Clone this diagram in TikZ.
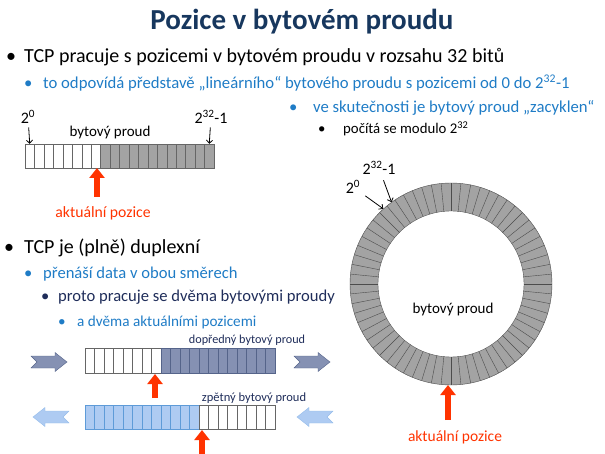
\documentclass[tikz,border=0pt]{standalone}
\usepackage{fontspec}
\setmainfont{Carlito}
\usetikzlibrary{arrows.meta}
\definecolor{titleblue}{HTML}{17375E}
\definecolor{textblue}{HTML}{1F7CC6}
\definecolor{navy}{HTML}{1F2D5A}
\definecolor{cellgray}{HTML}{A3A3A3}
\definecolor{slate}{HTML}{8591B3}
\definecolor{slateline}{HTML}{55648A}
\definecolor{skyfill}{HTML}{AECBF2}
\definecolor{skyline}{HTML}{5E9BD8}
\definecolor{posred}{HTML}{FF3300}
\newcommand{\fs}[1]{\fontsize{#1}{#1}\selectfont}
\newcommand{\bl}[1]{\makebox[#1][l]{\textbullet}}

\begin{document}
\begin{tikzpicture}[x=1pt,y=-1pt,>=Straight Barb]
\useasboundingbox (0,0) rectangle (605,454);
\newcommand{\cw}{9.45}
\tikzset{
  line/.style={anchor=west,inner sep=0},
  cell/.style={rectangle,draw=black!60,minimum width=\cw pt,minimum height=24pt,inner sep=0},
  posarrow/.style={posred,line width=6pt,-{Triangle[width=15pt,length=10pt]}},
  chevron/.pic={\draw[pic actions] (0,-6) -- (24,-6) -- (24,-9.5) -- (36,0) -- (24,9.5) -- (24,6) -- (0,6) -- (6,0) -- cycle;}
}
% title and bullets
\node[titleblue,font=\fs{29}\bfseries] (title) at (302,22) {Pozice v bytovém proudu};
\node[line,font=\fs{20}] (l1) at (6,57) {\bl{18pt}TCP pracuje s pozicemi v bytovém proudu v rozsahu 32 bitů};
\node[line,textblue,font=\fs{16.7}] (l2) at (24,83) {\bl{19pt}to odpovídá představě „lineárního“ bytového proudu s pozicemi od 0 do 2\textsuperscript{32}-1};
\node[line,textblue,font=\fs{16.7}] (l3) at (289,108) {\bl{24pt}ve skutečnosti je bytový proud „zacyklen“};
\node[line,font=\fs{14.8}] (l4) at (318,129) {\bl{25pt}počítá se modulo 2\textsuperscript{32}};
\node[line,font=\fs{20}] (l5) at (4,248) {\bl{20pt}TCP je (plně) duplexní};
\node[line,textblue,font=\fs{16.6}] (l6) at (24,274) {\bl{19pt}přenáší data v obou směrech};
\node[line,navy,font=\fs{16.6}] (l7) at (41,297) {\bl{17pt}proto pracuje se dvěma bytovými proudy};
\node[line,textblue,font=\fs{15.2}] (l8) at (58,322) {\bl{19pt}a dvěma aktuálními pozicemi};

% linear stream
\foreach \i in {1,...,8} \node[cell,fill=white] (a\i) at ({25+(\i-0.5)*\cw},156) {};
\foreach \i in {9,...,20} \node[cell,fill=cellgray] (a\i) at ({25+(\i-0.5)*\cw},156) {};
\node[font=\fs{16}] (z0) at (28,117) {2\textsuperscript{0}};
\node[font=\fs{16}] (z1) at (211,117) {2\textsuperscript{32}-1};
\node[font=\fs{15}] (bp1) at (110,133) {bytový proud};
\draw[->,thick] (z0) -- (a1.north);
\draw[->,thick] (z1) -- (a20.north);
\coordinate (p1) at (97,168);
\coordinate (q1) at (97,197);
\draw[posarrow] (q1) -- (p1);
\node[posred,font=\fs{15.7}] (ap1) at (103,213) {aktuální pozice};

% duplex streams
\foreach \i in {1,...,8} \node[cell,fill=white,minimum height=25pt] (b\i) at ({85+(\i-0.5)*9.5},360.5) {};
\foreach \i in {9,...,20} \node[cell,fill=slate,draw=slateline,minimum height=25pt] (b\i) at ({85+(\i-0.5)*9.5},360.5) {};
\foreach \i in {1,...,12} \node[cell,fill=skyfill,draw=skyline,minimum height=24pt] (c\i) at ({85+(\i-0.5)*9.5},417) {};
\foreach \i in {13,...,20} \node[cell,fill=white,minimum height=24pt] (c\i) at ({85+(\i-0.5)*9.5},417) {};
\node[navy,font=\fs{12.2}] (fw) at (247,340) {dopředný bytový proud};
\node[navy,font=\fs{12.5}] (bw) at (254,398) {zpětný bytový proud};
\coordinate (p2) at (155,374);
\coordinate (q2) at (155,398);
\draw[posarrow] (q2) -- (p2);
\coordinate (p3) at (202,430);
\coordinate (q3) at (202,456);
\draw[posarrow] (q3) -- (p3);
\pic[fill=slate,draw=slateline] at (31,362) {chevron};
\pic[fill=slate,draw=slateline] at (294,362) {chevron};
\pic[fill=skyfill,draw=skyfill!70!skyline,xscale=-1] at (69,417) {chevron};
\pic[fill=skyfill,draw=skyfill!70!skyline,xscale=-1] at (333,417) {chevron};

% cyclic stream
\node[circle,draw=black!70,fill=cellgray,minimum size=202pt,inner sep=0] (ring) at (451,284) {};
\node[circle,draw=black!70,fill=white,minimum size=146pt,inner sep=0] (hole) at (451,284) {};
\foreach \a in {0,5.625,...,354.4} \draw[black!70,shift={(451,284)}] (\a:73pt) -- (\a:101pt);
\node[font=\fs{15}] (bp2) at (453,310) {bytový proud};
\node[font=\fs{16}] (r0) at (353,187) {2\textsuperscript{0}};
\node[font=\fs{16}] (r1) at (379,168) {2\textsuperscript{32}-1};
\draw[->,thick,shorten <=2pt] (r0) -- (ring.132);
\draw[->,thick,shorten <=2pt] (r1) -- (ring.126);
\coordinate (p4) at (448,385);
\coordinate (q4) at (448,420);
\draw[posarrow] (q4) -- (p4);
\node[posred,font=\fs{15.5}] (ap2) at (455,437) {aktuální pozice};
\end{tikzpicture}
\end{document}
